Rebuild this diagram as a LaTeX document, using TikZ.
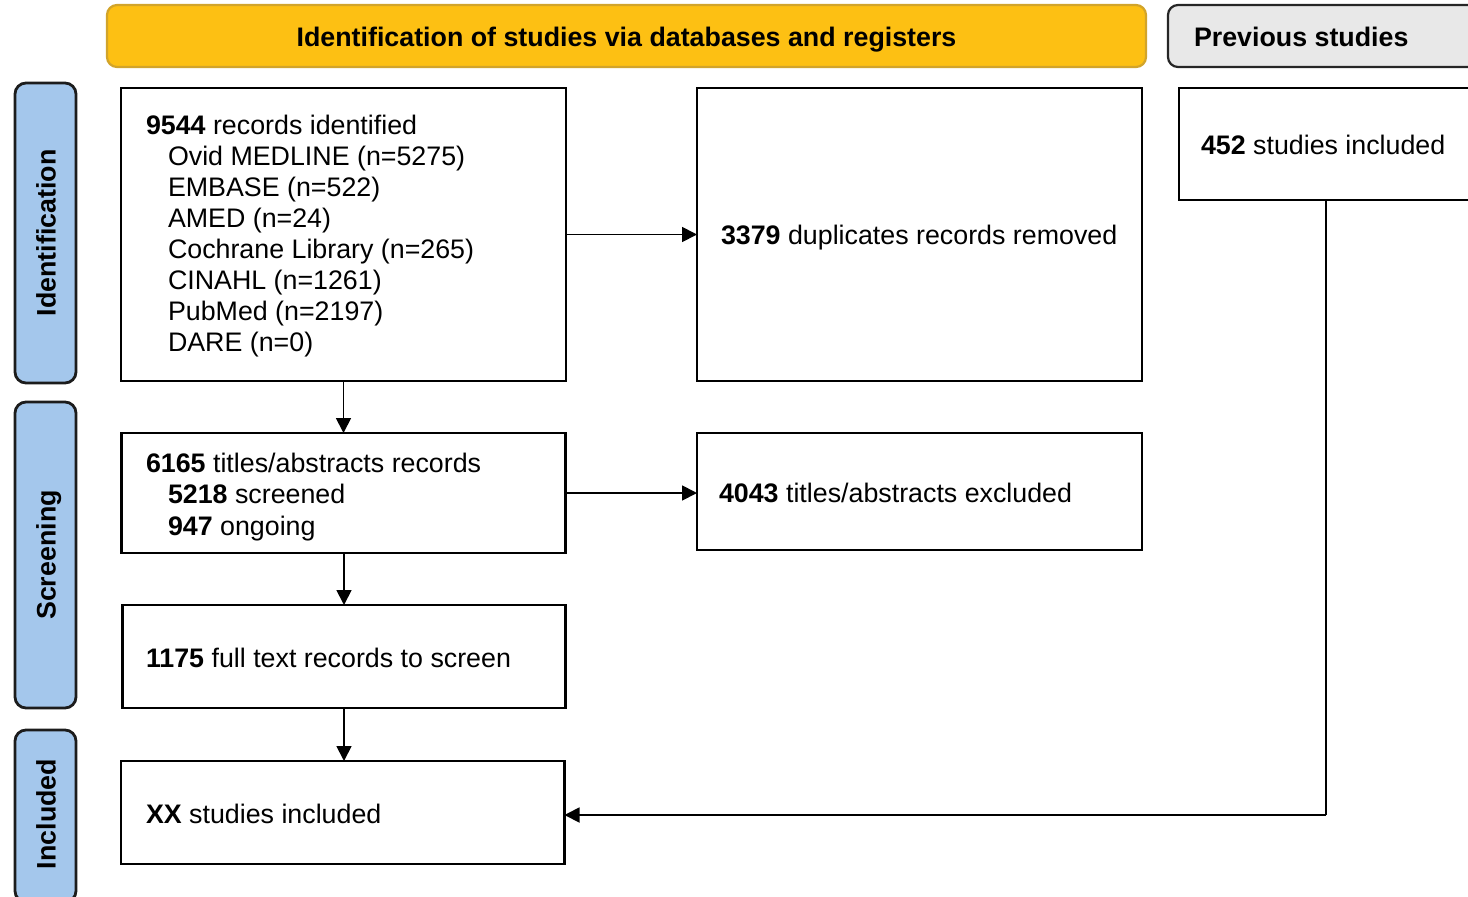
\documentclass[tikz,border=0pt]{standalone}
\usepackage{fontspec}
\setmainfont{Liberation Sans}
\usetikzlibrary{arrows.meta}
\definecolor{hdryellow}{HTML}{FDC013}
\definecolor{hdryellowline}{HTML}{D2A42A}
\definecolor{hdrgray}{HTML}{E8E8E8}
\definecolor{hdrgrayline}{HTML}{262626}
\definecolor{laneblue}{HTML}{A4C7EC}
\definecolor{laneline}{HTML}{1C1C1C}
\begin{document}
\begin{tikzpicture}[x=1pt,y=-1pt,
  box/.style={draw=black, line width=2.5pt, fill=white, inner sep=0pt, outer sep=0pt},
  lane/.style={draw=laneline, fill=laneblue, line width=2.8pt, rounded corners=11pt, inner sep=0pt, outer sep=0pt, minimum width=61pt},
  hdr/.style={line width=2.2pt, rounded corners=10pt, inner sep=0pt, outer sep=0pt, minimum height=62pt},
  tx/.style={anchor=base west, inner sep=0pt, outer sep=0pt, font=\fontsize{26.8}{31}\selectfont},
  lanetx/.style={anchor=base, rotate=90, inner sep=0pt, font=\fontsize{26.8}{31}\selectfont\bfseries},
  conn/.style={line width=1.8pt, -{Triangle[length=15pt,width=15pt]}},
  plain/.style={line width=1.8pt}
]
\path[use as bounding box] (0,0) rectangle (1468,897);
\clip (0,0) rectangle (1468,897);

% headers
\node[hdr, draw=hdryellowline, fill=hdryellow, minimum width=1039pt] (hy) at (626.5,36) {};
\node[tx, anchor=base] (hyt) at (626.5,46) {\textbf{Identification of studies via databases and registers}};
\node[hdr, draw=hdrgrayline, fill=hdrgray, minimum width=340pt] (hg) at (1338,36) {};
\node[tx] (hgt) at (1194,46) {\textbf{Previous studies}};

% lanes
\node[lane, minimum height=300pt] (lid) at (45.5,233) {};
\node[lanetx] (lidt) at (55.5,233) {Identification};
\node[lane, minimum height=306pt] (lsc) at (45.5,555) {};
\node[lanetx] (lsct) at (55.5,555) {Screening};
\node[lane, minimum height=172pt] (lin) at (45.5,816) {};
\node[lanetx] (lint) at (55.5,814) {Included};

% boxes
\node[box, minimum width=445pt, minimum height=293pt] (b1) at (343.5,234.5) {};
\node[box, minimum width=445pt, minimum height=293pt] (dup) at (919.5,234.5) {};
\node[box, minimum width=330pt, minimum height=112pt] (prev) at (1344,144) {};
\node[box, minimum width=444pt, minimum height=120pt] (scr) at (343.5,493) {};
\node[box, minimum width=445pt, minimum height=117pt] (exc) at (919.5,491.5) {};
\node[box, minimum width=443pt, minimum height=103pt] (ft) at (344,656.5) {};
\node[box, minimum width=443.5pt, minimum height=103pt] (xx) at (342.75,812.5) {};

% texts
\node[tx] (l1) at (146,134) {\textbf{9544} records identified};
\node[tx] (l2) at (168,165) {Ovid MEDLINE (n=5275)};
\node[tx] (l3) at (168,196) {EMBASE (n=522)};
\node[tx] (l4) at (168,227) {AMED (n=24)};
\node[tx] (l5) at (168,258) {Cochrane Library (n=265)};
\node[tx] (l6) at (168,289) {CINAHL (n=1261)};
\node[tx] (l7) at (168,320) {PubMed (n=2197)};
\node[tx] (l8) at (168,351) {DARE (n=0)};

\node[tx] (d1) at (721,244) {\textbf{3379} duplicates records removed};
\node[tx] (p1) at (1201,154) {\textbf{452} studies included};

\node[tx] (s1) at (146,472) {\textbf{6165} titles/abstracts records};
\node[tx] (s2) at (168,503.5) {\textbf{5218} screened};
\node[tx] (s3) at (168,535) {\textbf{947} ongoing};

\node[tx] (e1) at (719,502) {\textbf{4043} titles/abstracts excluded};
\node[tx] (f1) at (146,667) {\textbf{1175} full text records to screen};
\node[tx] (x1) at (146,823) {\textbf{XX} studies included};

% connectors
\draw[conn] (b1.south) -- (scr.north);
\draw[conn] (b1.east) -- (dup.west);
\draw[conn] (scr.east) -- (scr.east -| exc.west);
\draw[conn] (scr.south -| ft.north) -- (ft.north);
\draw[conn] (ft.south) -- (ft.south |- xx.north);
\coordinate (turn) at (1326,815);
\draw[plain] (prev.south -| turn) -- (turn);
\draw[conn] (turn) -- (turn -| xx.east);
\end{tikzpicture}
\end{document}
